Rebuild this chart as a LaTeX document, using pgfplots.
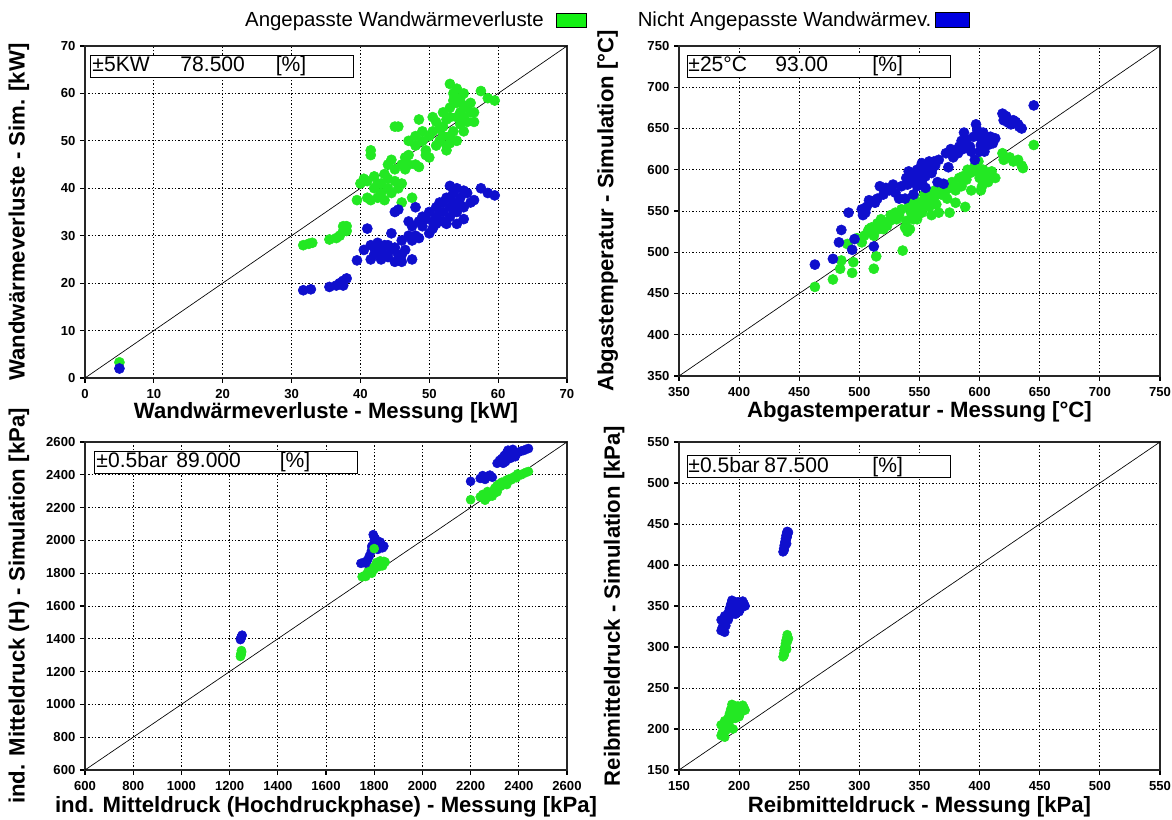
\documentclass[border=0pt]{standalone}
\usepackage{pgfplots}
\pgfplotsset{compat=1.18}
\usepackage{fontspec}
\setmainfont{Liberation Sans}
\definecolor{mygreen}{RGB}{35,232,35}
\definecolor{myblue}{RGB}{15,15,205}
\definecolor{leggreen}{RGB}{20,240,20}
\definecolor{legblue}{RGB}{0,0,225}
\pgfplotsset{
  myaxis/.style={
    scale only axis, anchor=south west,
    axis line style={line width=1pt, black!85},
    tick align=outside, xtick pos=left, ytick pos=left,
    major tick length=3.75pt,
    tick style={black, line width=0.8pt},
    grid=major,
    major grid style={black, line width=0.6pt, dash pattern=on 0.9pt off 1.6pt},
    ticklabel style={font=\bfseries\fontsize{9.8}{11}\selectfont},
    xticklabel style={yshift=-1.5pt},
    label style={font=\bfseries\fontsize{16.6}{20}\selectfont},
    /pgf/number format/assume math mode=true,
    /pgf/number format/1000 sep={},
    clip=true,
  },
  gpts/.style={only marks, mark=*, mark size=3.8pt, mark options={draw=mygreen, fill=mygreen}, forget plot},
  bpts/.style={only marks, mark=*, mark size=3.8pt, mark options={draw=myblue, fill=myblue}, forget plot},
  gpts2/.style={gpts, mark size=3.4pt},
  bpts2/.style={bpts, mark size=3.4pt},
  diag/.style={black, line width=0.5pt, forget plot},
}
\tikzset{
  annot/.style={draw=black, line width=0.7pt, fill=white, anchor=north west, inner sep=0pt,
    minimum height=16.5pt, font=\fontsize{15.8}{17}\selectfont},
}
\newcommand{\annotbox}[6]{%
  \makebox[197pt][l]{\hspace{#1}\makebox[#2][l]{#4}\makebox[#3][l]{#5}#6}}
\begin{document}
\begin{tikzpicture}
\path[use as bounding box] (0,0) rectangle (879pt,615pt);

% ---------------- top left ----------------
\begin{axis}[myaxis,
  at={(63.75pt,331.5pt)}, width=361.5pt, height=249pt,
  xmin=0, xmax=70, ymin=0, ymax=70,
  xtick={0,10,...,70}, ytick={0,10,...,70},
  xlabel={Wandwärmeverluste - Messung [kW]},
  ylabel={Wandwärmeverluste - Sim. [kW]},
  xlabel style={at={(axis description cs:0.5,-0.104)}, anchor=center},
  ylabel style={at={(axis description cs:-0.137,0.5)}, anchor=center},
  legend plot pos=right,
  legend columns=2,
  legend style={draw=none, fill=none, inner sep=0pt,
    at={(axis description cs:0.329,1.078)}, anchor=west,
    font=\fontsize{15.3}{18}\selectfont,
    nodes={inner sep=1pt},
    /tikz/column 2/.style={column sep=37pt}},
]
\addplot[gpts] coordinates {
(5,3.3)
(31.7,28) (32.5,28.3) (33,28.5)
(35.5,29.2) (36.5,29.5) (37,30) (37.5,31) (37.5,32) (38,32) (38,31)
(39.5,37.5) (40,41) (40.5,42) (41,41.5) (41,38) (41.5,37.5) (41.5,47) (41.5,48)
(42,42.5) (42,40) (42.5,38) (43,39) (43,41) (43.5,37.5) (44,40) (44,42) (44,45)
(44.5,46) (44.5,39) (45,53) (45.5,53) (45,44) (45.5,40) (46,41) (46,37) (46.5,44)
(47,47) (47,45) (47,50) (47.5,38) (48,45) (48.5,44.5) (48.5,54.5) (48,49) (49,50)
(49.5,48) (49.5,47) (50,46.5) (50,51) (50.5,52) (50.5,55) (51,54) (51,49) (51.5,50)
(52,51) (52,53) (52.5,49) (53,62) (53,57) (53,55) (53.5,60) (53.5,52) (54,61)
(54,58) (54,50) (54.5,56) (54.5,59) (55,60) (55,55) (55,52) (55.5,57) (55.5,54)
(56,58) (56.5,54) (56.5,56) (57.5,60.5) (58.5,59) (59.5,58.5) (52.5,48) (53,51)
(42.5,41) (43.5,43) (45,41.5) (46,45) (49,52) (51.5,52.5) (52,56) (53.5,58.5)
(54.5,53.5) (55,57.5) (56,56) (53,49.5) (54,55) (52.5,54.5) (48,51) (46.5,46.5)
};
\addplot[bpts] coordinates {
(5,2)
(31.7,18.5) (32.8,18.7) (35.5,19.2) (36.5,19.5) (37,20) (37.5,20.5) (38,21) (37.5,19.5)
(39.5,24.8) (40.5,27) (41,31.5) (41.5,28) (41.5,25) (42,27.5) (42,26) (42.5,28.5)
(43,25) (43,27) (43.5,26) (44,25.5) (44,28) (44.5,30.5) (44.5,27) (45,24.5) (45,35)
(45.5,35.5) (45.5,26) (46,29) (46,24.5) (46.5,27) (47,30) (47,33) (47.5,25) (47.5,32)
(48,30) (48,36) (48.5,29.5) (49,34) (49,32) (50,30.5) (50,35) (50.5,33) (51,36)
(51,34) (51.5,37) (52,33) (52,35) (52.5,38) (52.5,32.5) (53,40.5) (53,36) (53,34)
(53.5,39) (53.5,37) (54,35) (54,40) (54.5,38) (55,36) (55,33.5) (55.5,39) (56,37)
(56.5,37.5) (57.5,40) (58.5,39) (59.5,38.5) (54,32.5) (50.5,31.5)
(42.5,26.5) (43.5,28) (45,27.5) (46,26) (48.5,33) (51.5,35) (52,37) (53.5,35.5)
(54.5,36.5) (55,39.5) (53,38) (51,32.5) (49.5,33.5) (47.5,29)
};
\addplot[diag] coordinates {(0,0) (70,70)};
\node[annot] at (axis description cs:0.0104,0.973)
  {\annotbox{1.5pt}{66pt}{71.5pt}{±5KW}{78.500}{[\%]}};
\addlegendimage{legend image code/.code={\path (0pt,0pt);
  \draw[fill=leggreen, draw=black, line width=0.6pt] (8pt,-5.25pt) rectangle (31pt,5.25pt);}}
\addlegendentry{Angepasste Wandwärmeverluste}
\addlegendimage{legend image code/.code={\path (0pt,0pt);
  \draw[fill=legblue, draw=black, line width=0.6pt] (1.5pt,-5.5pt) rectangle (27.5pt,5.5pt);}}
\addlegendentry{Nicht Angepasste Wandwärmev.}
\end{axis}

% ---------------- top right ----------------
\begin{axis}[myaxis,
  at={(509.25pt,333pt)}, width=360.75pt, height=247.5pt,
  xmin=350, xmax=750, ymin=350, ymax=750,
  xtick={350,400,...,750}, ytick={350,400,...,750},
  xlabel={Abgastemperatur - Messung [°C]},
  ylabel={Abgastemperatur - Simulation [°C]},
  xlabel style={at={(axis description cs:0.5,-0.11)}, anchor=center},
  ylabel style={at={(axis description cs:-0.148,0.5)}, anchor=center},
]
\addplot[gpts] coordinates {
(463,458) (478,467) (484,480) (485,490) (490,510) (494,475) (495,488) (498,517)
(502,512) (504,520) (507,525) (510,530) (512,480) (514,495) (515,535) (518,540)
(520,528) (523,532) (525,538) (528,540) (530,548) (533,545) (536,502) (538,530)
(540,525) (541,555) (543,548) (545,560) (548,540) (550,552) (552,548) (554,570)
(556,562) (558,555) (560,572) (562,565) (564,558) (566,548) (568,570) (570,580)
(573,565) (575,548) (577,585) (580,575) (583,590) (585,580) (588,555) (590,600)
(593,575) (596,605) (598,600) (600,590) (602,580) (604,595) (607,585) (610,593)
(613,590) (619,620) (620,612) (625,615) (628,610) (632,612) (635,605) (636,602)
(645,630) (560,545) (545,540) (580,560)
(547,552) (551,560) (553,556) (555,566) (557,572) (559,563) (561,558) (544,545)
(546,565) (549,548) (563,575) (571,572) (575,578) (578,583) (586,592) (589,588)
(592,596) (595,598) (599,610) (603,600) (605,588) (601,575) (610,598) (508,528)
(512,520) (516,528) (521,535) (526,545) (531,540) (535,552) (539,538) (542,528)
};
\addplot[bpts] coordinates {
(463,485) (478,492) (485,527) (483,512) (491,548) (494,503) (496,516) (502,552)
(503,545) (505,548) (508,563) (512,507) (513,560) (515,565) (517,580) (520,570)
(525,575) (528,582) (530,572) (533,565) (538,565) (539,590) (541,598) (543,585)
(546,592) (548,600) (550,590) (552,608) (554,604) (556,600) (558,610) (560,596)
(563,605) (565,585) (566,612) (572,620) (574,603) (576,625) (580,622) (583,628)
(585,635) (587,645) (590,630) (593,622) (596,612) (597,655) (598,648) (600,640)
(602,632) (604,622) (606,637) (609,640) (613,638) (619,668) (620,660) (624,657)
(628,660) (632,655) (635,650) (645,678) (570,583) (555,578) (545,570) (535,580)
(540,582) (544,595) (547,588) (549,595) (551,603) (553,596) (555,592) (557,602)
(559,605) (561,602) (548,580) (552,585) (562,610) (578,615) (582,620) (586,625)
(589,637) (592,628) (595,640) (599,645) (601,630) (603,645) (607,630) (611,632)
(600,622) (622,665) (626,655) (630,658) (633,652) (506,555) (510,562) (522,578)
};
\addplot[diag] coordinates {(350,350) (750,750)};
\node[annot] at (axis description cs:0.0166,0.973)
  {\annotbox{0.75pt}{65.25pt}{72.75pt}{±25°C}{93.00}{[\%]}};
\end{axis}

% ---------------- bottom left ----------------
\begin{axis}[myaxis,
  at={(63.75pt,37.5pt)}, width=361.5pt, height=246pt,
  xmin=600, xmax=2600, ymin=600, ymax=2600,
  xtick={600,800,...,2600}, ytick={600,800,...,2600},
  xlabel={ind. Mitteldruck (Hochdruckphase) - Messung [kPa]},
  ylabel={ind. Mitteldruck (H) - Simulation [kPa]},
  xlabel style={at={(axis description cs:0.5,-0.112)}, anchor=center},
  ylabel style={at={(axis description cs:-0.137,0.5)}, anchor=center},
]
\addplot[gpts2] coordinates {
(1245,1292) (1247,1300) (1248,1310) (1250,1320) (1249,1328) (1246,1305)
(1750,1778) (1760,1785) (1770,1795) (1780,1805) (1790,1815) (1800,1825)
(1810,1838) (1820,1850) (1830,1862) (1840,1872) (1845,1868)
(1790,1800) (1765,1780) (1820,1840) (1830,1850) (1810,1865) (1795,1835)
(1775,1812) (1825,1875) (1835,1845)
(2200,2248) (2240,2265) (2250,2280) (2260,2245) (2270,2262) (2280,2282)
(2290,2270) (2300,2318) (2310,2335) (2320,2345) (2330,2355) (2340,2350)
(2350,2368) (2360,2375) (2370,2370) (2380,2388) (2390,2382) (2400,2398)
(2410,2400) (2420,2408) (2430,2415) (2440,2420) (2310,2295) (2270,2298)
(2350,2340) (2325,2330) (2395,2405)
};
\addplot[bpts2] coordinates {
(1245,1395) (1248,1405) (1250,1415) (1252,1422) (1248,1410) (1246,1400)
(1745,1860) (1755,1865) (1765,1862) (1772,1880) (1780,1905) (1788,1935)
(1792,1955) (1796,2035) (1800,2020) (1800,1998) (1806,1990) (1812,1980)
(1820,1978) (1830,1972) (1840,1965) (1835,1955) (1815,1945) (1790,1965)
(1805,2010) (1825,1990)
(2200,2360) (2240,2378) (2250,2395) (2260,2372) (2270,2388) (2280,2398)
(2290,2385) (2310,2470) (2320,2488) (2330,2500) (2340,2518) (2350,2535)
(2360,2545) (2370,2540) (2380,2522) (2390,2530) (2400,2538) (2410,2545)
(2420,2548) (2430,2555) (2440,2560) (2345,2480) (2365,2500) (2385,2510)
(2335,2470) (2355,2550) (2375,2555)
};
\addplot[gpts2] coordinates {(1800,1950)};
\addplot[diag] coordinates {(600,600) (2600,2600)};
\node[annot] at (axis description cs:0.0187,0.9726)
  {\annotbox{1.5pt}{60pt}{77.5pt}{±0.5bar}{89.000}{[\%]}};
\end{axis}

% ---------------- bottom right ----------------
\begin{axis}[myaxis,
  at={(509.25pt,37.5pt)}, width=360.75pt, height=246pt,
  xmin=150, xmax=550, ymin=150, ymax=550,
  xtick={150,200,...,550}, ytick={150,200,...,550},
  xlabel={Reibmitteldruck - Messung [kPa]},
  ylabel={Reibmitteldruck - Simulation [kPa]},
  xlabel style={at={(axis description cs:0.5,-0.112)}, anchor=center},
  ylabel style={at={(axis description cs:-0.135,0.5)}, anchor=center},
]
\addplot[gpts2] coordinates {
(236.5,288) (237,292) (237.5,296) (238,300) (238.5,304) (239,308) (239.5,311)
(240,315) (240.5,312) (239,300) (238,294) (240,306) (237.5,290) (239.5,297) (241,310)
(185,192) (186,196) (187,202) (185,205) (188,210) (190,208) (189,198) (191,214)
(192,219) (193,224) (194,230) (195,223) (196,218) (197,213) (198,221) (199,228)
(200,225) (201,219) (202,223) (203,229) (204,226) (205,223) (194,212) (191,205)
(197,228) (200,215) (188,190) (192,210) (195,200)
};
\addplot[bpts2] coordinates {
(236.5,416) (237,420) (237.5,424) (238,428) (238.5,432) (239,436) (239.5,439)
(240,441) (240.5,438) (239,430) (238,422) (240,434) (237.5,418) (239.5,426) (241,440)
(185,320) (186,324) (187,330) (185,333) (188,338) (190,336) (189,326) (191,342)
(192,347) (193,352) (194,357) (195,350) (196,345) (197,340) (198,348) (199,355)
(200,352) (201,346) (202,350) (203,356) (204,353) (205,350) (194,340) (191,333)
(197,355) (200,343) (188,318) (192,338)
};
\addplot[diag] coordinates {(150,150) (550,550)};
\node[annot] at (axis description cs:0.0166,0.960)
  {\annotbox{0.75pt}{57pt}{81pt}{±0.5bar}{87.500}{[\%]}};
\end{axis}
\end{tikzpicture}
\end{document}
